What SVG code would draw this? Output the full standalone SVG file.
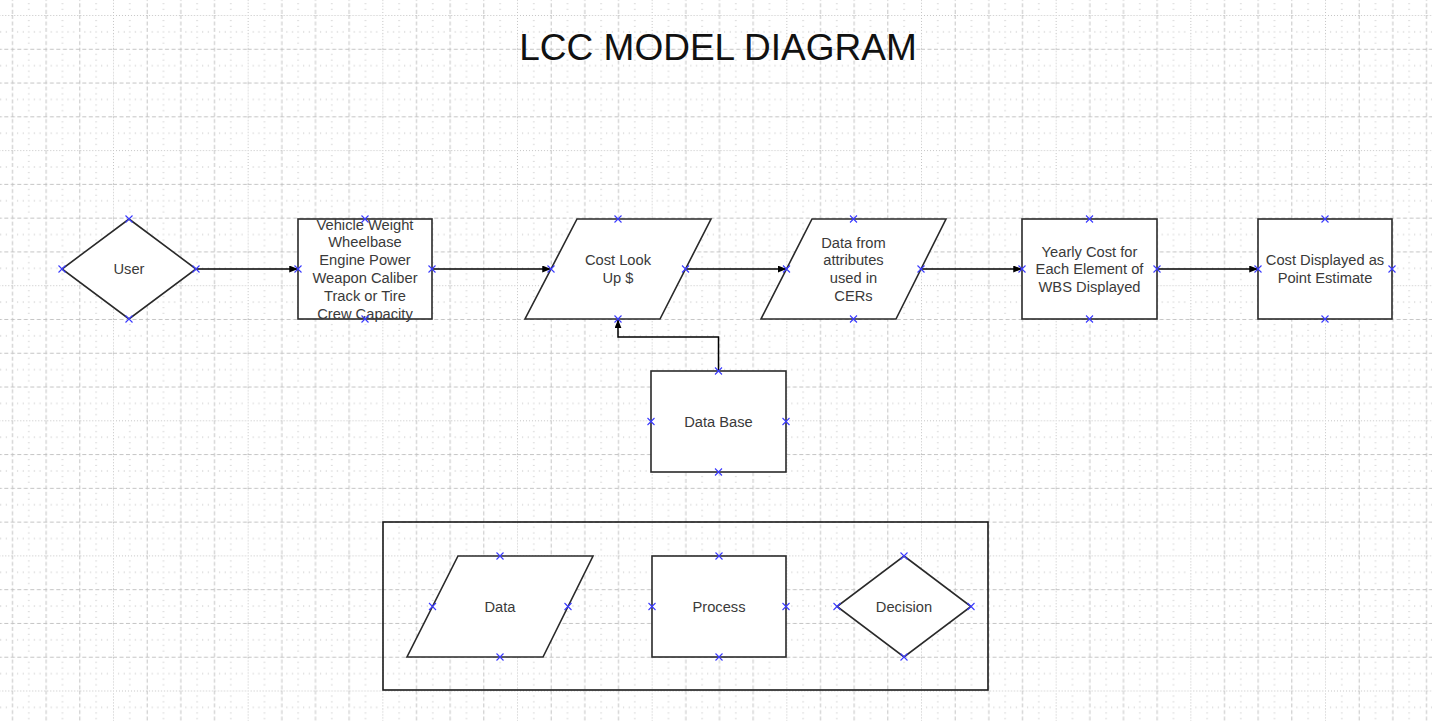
<svg xmlns="http://www.w3.org/2000/svg" width="1432" height="721" viewBox="0 0 1432 721">
<style>
.shape{fill:#ffffff;stroke:#2a2a2a;stroke-width:1.6}
.frame{fill:none;stroke:#1a1a1a;stroke-width:1.6}
.lbl{font-family:"Liberation Sans",Arial,sans-serif;font-size:14.7px;fill:#3a3a3a;text-anchor:middle}
.title{font-family:"Liberation Sans",Arial,sans-serif;font-size:37px;fill:#111111;text-anchor:middle}
.conn{fill:none;stroke:#000000;stroke-width:1.5}
.cp{fill:none;stroke:#3a3aff;stroke-width:1.1}
.gdash{stroke:#c4c4c4;stroke-width:1;fill:none;stroke-dasharray:4 2.5}
.gdot{stroke:#c4c4c4;stroke-width:1;fill:none;stroke-dasharray:1 2}
</style>
<defs>
<pattern id="cell" patternUnits="userSpaceOnUse" x="12" y="15" width="33.667" height="33.775">
<g fill="#b8b8b8">
<rect x="5.1" y="16.4" width="1" height="1"/><rect x="10.7" y="16.4" width="1" height="1"/><rect x="16.3" y="16.4" width="1" height="1"/><rect x="21.9" y="16.4" width="1" height="1"/><rect x="27.5" y="16.4" width="1" height="1"/>
<rect x="16.3" y="5.1" width="1" height="1"/><rect x="16.3" y="10.8" width="1" height="1"/><rect x="16.3" y="22" width="1" height="1"/><rect x="16.3" y="27.6" width="1" height="1"/>
</g>
</pattern>
<pattern id="major" patternUnits="userSpaceOnUse" x="-21.667" y="15" width="134.667" height="135.1">
<path class="gdot" d="M0.5,0V135.1M0,0.5H134.667"/>
<path class="gdash" d="M34.17,0V135.1M67.83,0V135.1M101.5,0V135.1M0,34.27H134.667M0,68.05H134.667M0,101.8H134.667"/>
</pattern>
<marker id="arr" viewBox="0 0 10 8" refX="10" refY="4" markerWidth="9" markerHeight="7" markerUnits="userSpaceOnUse" orient="auto">
<path d="M0,0L10,4L0,8z" fill="#000000"/>
</marker>
<path id="x" d="M-3.5,-3.5L3.5,3.5M-3.5,3.5L3.5,-3.5"/>
</defs>
<rect width="1432" height="721" fill="#ffffff"/>
<rect width="1432" height="721" fill="url(#cell)"/>
<rect width="1432" height="721" fill="url(#major)"/>

<text class="title" x="718" y="60">LCC MODEL DIAGRAM</text>

<g id="connectors">
<line class="conn" x1="196" y1="269" x2="298" y2="269" marker-end="url(#arr)"/>
<line class="conn" x1="432" y1="269" x2="551" y2="269" marker-end="url(#arr)"/>
<line class="conn" x1="685.5" y1="269" x2="786.5" y2="269" marker-end="url(#arr)"/>
<line class="conn" x1="921" y1="269" x2="1022" y2="269" marker-end="url(#arr)"/>
<line class="conn" x1="1157" y1="269" x2="1258" y2="269" marker-end="url(#arr)"/>
<path class="conn" d="M718.5,371V337H618V319.5" marker-end="url(#arr)"/>
</g>

<g id="user">
<polygon class="shape" points="129,219 196,269 129,319 62,269"/>
<text class="lbl" x="129" y="274.3">User</text>
</g>

<g id="vehicle">
<rect class="shape" x="298" y="219" width="134" height="100"/>
<text class="lbl" x="365" y="229.6">Vehicle Weight</text>
<text class="lbl" x="365" y="247.4">Wheelbase</text>
<text class="lbl" x="365" y="265.2">Engine Power</text>
<text class="lbl" x="365" y="283">Weapon Caliber</text>
<text class="lbl" x="365" y="300.8">Track or Tire</text>
<text class="lbl" x="365" y="318.6">Crew Capacity</text>
</g>

<g id="costlookup">
<polygon class="shape" points="577,219 711,219 660,319 525,319"/>
<text class="lbl" x="618" y="265.4">Cost Look</text>
<text class="lbl" x="618" y="283.2">Up $</text>
</g>

<g id="datafrom">
<polygon class="shape" points="812,219 946,219 896,319 761,319"/>
<text class="lbl" x="853.5" y="247.6">Data from</text>
<text class="lbl" x="853.5" y="265.4">attributes</text>
<text class="lbl" x="853.5" y="283.2">used in</text>
<text class="lbl" x="853.5" y="301">CERs</text>
</g>

<g id="yearly">
<rect class="shape" x="1022" y="219" width="135" height="100"/>
<text class="lbl" x="1089.5" y="256.5">Yearly Cost for</text>
<text class="lbl" x="1089.5" y="274.3">Each Element of</text>
<text class="lbl" x="1089.5" y="292.1">WBS Displayed</text>
</g>

<g id="costdisplayed">
<rect class="shape" x="1258" y="219" width="134" height="100"/>
<text class="lbl" x="1325" y="265.4">Cost Displayed as</text>
<text class="lbl" x="1325" y="283.2">Point Estimate</text>
</g>

<g id="database">
<rect class="shape" x="651" y="371" width="135" height="101"/>
<text class="lbl" x="718.5" y="426.5">Data Base</text>
</g>

<g id="legend">
<rect class="frame" x="383" y="522" width="605" height="168"/>
<g id="legend-data">
<polygon class="shape" points="458,556 593,556 543,657 407,657"/>
<text class="lbl" x="500" y="611.8">Data</text>
</g>
<g id="legend-process">
<rect class="shape" x="652" y="556" width="134" height="101"/>
<text class="lbl" x="719" y="611.8">Process</text>
</g>
<g id="legend-decision">
<polygon class="shape" points="904,556 971,606.5 904,657 837,606.5"/>
<text class="lbl" x="904" y="611.8">Decision</text>
</g>
</g>

<g id="connection-points" class="cp">
<use href="#x" x="129" y="219"/><use href="#x" x="62" y="269"/><use href="#x" x="196" y="269"/><use href="#x" x="129" y="319"/>
<use href="#x" x="365" y="219"/><use href="#x" x="298" y="269"/><use href="#x" x="432" y="269"/><use href="#x" x="365" y="319"/>
<use href="#x" x="618" y="219"/><use href="#x" x="551" y="269"/><use href="#x" x="685.5" y="269"/><use href="#x" x="618" y="319"/>
<use href="#x" x="853.5" y="219"/><use href="#x" x="786.5" y="269"/><use href="#x" x="921" y="269"/><use href="#x" x="853.5" y="319"/>
<use href="#x" x="1089.5" y="219"/><use href="#x" x="1022" y="269"/><use href="#x" x="1157" y="269"/><use href="#x" x="1089.5" y="319"/>
<use href="#x" x="1325" y="219"/><use href="#x" x="1258" y="269"/><use href="#x" x="1392" y="269"/><use href="#x" x="1325" y="319"/>
<use href="#x" x="718.5" y="371"/><use href="#x" x="651" y="421.5"/><use href="#x" x="786" y="421.5"/><use href="#x" x="718.5" y="472"/>
<use href="#x" x="500" y="556"/><use href="#x" x="432.5" y="606.5"/><use href="#x" x="568" y="606.5"/><use href="#x" x="500" y="657"/>
<use href="#x" x="719" y="556"/><use href="#x" x="652" y="606.5"/><use href="#x" x="786" y="606.5"/><use href="#x" x="719" y="657"/>
<use href="#x" x="904" y="556"/><use href="#x" x="837" y="606.5"/><use href="#x" x="971" y="606.5"/><use href="#x" x="904" y="657"/>
</g>
</svg>
